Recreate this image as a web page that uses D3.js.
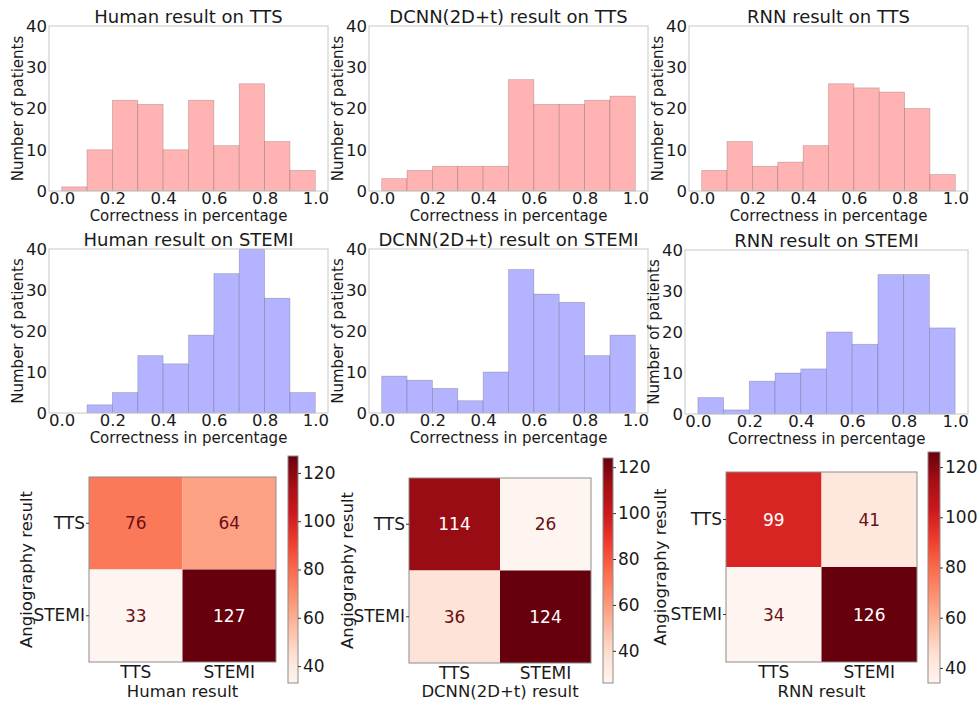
<!DOCTYPE html>
<html>
<head>
	<script src="https://cdn.jsdelivr.net/npm/d3@7"></script>
	<style>
		html, body {
			padding: 0;
			margin: 0;
			background: #fff;
		}
		text {
			font-family: "DejaVu Sans", sans-serif;
			fill: #1a1a1a;
		}
	</style>
</head>
<body>
	<script>
		var width = 977,
			height = 703;

		// ---- data ----
		var binEdges = [0.0, 0.1, 0.2, 0.3, 0.4, 0.5, 0.6, 0.7, 0.8, 0.9, 1.0];
		var humanTTS = [1, 10, 22, 21, 10, 22, 11, 26, 12, 5];
		var dcnnTTS = [3, 5, 6, 6, 6, 27, 21, 21, 22, 23];
		var rnnTTS = [5, 12, 6, 7, 11, 26, 25, 24, 20, 4];
		var humanSTEMI = [0, 2, 5, 14, 12, 19, 34, 40, 28, 5];
		var dcnnSTEMI = [9, 8, 6, 3, 10, 35, 29, 27, 14, 19];
		var rnnSTEMI = [4, 1, 8, 10, 11, 20, 17, 34, 34, 21];
		var histXTicks = [0.0, 0.2, 0.4, 0.6, 0.8, 1.0];
		var histYTicks = [0, 10, 20, 30, 40];

		var classLabels = ["TTS", "STEMI"];
		var humanCM = [[76, 64], [33, 127]];
		var dcnnCM = [[114, 26], [36, 124]];
		var rnnCM = [[99, 41], [34, 126]];
		var colorbarTicks = [40, 60, 80, 100, 120];

		// matplotlib "Reds" anchors
		var redsAnchors = ["#fff5f0", "#fee0d2", "#fcbba1", "#fc9272", "#fb6a4a",
			"#ef3b2c", "#cb181d", "#a50f15", "#67000d"];

		var svg = d3.select("body").append("svg")
			.attr("width", width)
			.attr("height", height);

		function styleTicks(sel, size) {
			sel.selectAll("text")
				.style("font-size", size + "px")
				.style("font-family", "DejaVu Sans, sans-serif")
				.attr("fill", "#1a1a1a");
		}

		//////// HISTOGRAMS ////////
		var hists = [
			{ title: "Human result on TTS", counts: humanTTS, color: "red", box: [49, 328, 26, 191] },
			{ title: "DCNN(2D+t) result on TTS", counts: dcnnTTS, color: "red", box: [369, 648, 26, 191] },
			{ title: "RNN result on TTS", counts: rnnTTS, color: "red", box: [689, 968, 26, 191] },
			{ title: "Human result on STEMI", counts: humanSTEMI, color: "blue", box: [49, 328, 249, 413] },
			{ title: "DCNN(2D+t) result on STEMI", counts: dcnnSTEMI, color: "blue", box: [369, 648, 249, 413] },
			{ title: "RNN result on STEMI", counts: rnnSTEMI, color: "blue", box: [685, 968, 250, 414] }
		];

		var fills = { red: "#ffb3b3", blue: "#b3b3ff" };

		hists.forEach(function(h) {
			var b = h.box;
			var x = d3.scaleLinear().domain([-0.05, 1.05]).range([b[0], b[1]]);
			var y = d3.scaleLinear().domain([0, 40]).range([b[3], b[2]]);
			var g = svg.append("g");

			var bins = h.counts.map(function(c, i) {
				return { x0: binEdges[i], x1: binEdges[i + 1], n: c };
			}).filter(function(d) { return d.n > 0; });

			g.selectAll("rect.bar")
				.data(bins)
				.enter().append("rect")
				.attr("class", "bar")
				.attr("x", function(d) { return x(d.x0); })
				.attr("y", function(d) { return y(d.n); })
				.attr("width", function(d) { return x(d.x1) - x(d.x0); })
				.attr("height", function(d) { return y(0) - y(d.n); })
				.attr("fill", fills[h.color])
				.attr("stroke", "#000")
				.attr("stroke-opacity", 0.2)
				.attr("stroke-width", 0.8);

			// frame
			g.append("rect")
				.attr("x", b[0]).attr("y", b[2])
				.attr("width", b[1] - b[0]).attr("height", b[3] - b[2])
				.attr("fill", "none")
				.attr("stroke", "#c8c8c8")
				.attr("stroke-width", 1);

			var xAxis = d3.axisBottom(x).tickValues(histXTicks)
				.tickFormat(d3.format(".1f")).tickSize(0).tickPadding(1);
			var gx = g.append("g").attr("transform", "translate(0," + b[3] + ")").call(xAxis);
			gx.select(".domain").remove();
			styleTicks(gx, 16.5);

			var yAxis = d3.axisLeft(y).tickValues(histYTicks).tickSize(0).tickPadding(2);
			var gy = g.append("g").attr("transform", "translate(" + b[0] + ",0)").call(yAxis);
			gy.select(".domain").remove();
			styleTicks(gy, 16.5);

			g.append("text")
				.attr("x", (b[0] + b[1]) / 2)
				.attr("y", b[2] - 3)
				.attr("text-anchor", "middle")
				.style("font-size", "18px")
				.text(h.title);

			g.append("text")
				.attr("x", (b[0] + b[1]) / 2)
				.attr("y", b[3] + 30)
				.attr("text-anchor", "middle")
				.style("font-size", "15px")
				.text("Correctness in percentage");

			g.append("text")
				.attr("transform", "translate(" + (b[0] - 31) + "," + ((b[2] + b[3]) / 2) + ") rotate(-90)")
				.attr("text-anchor", "middle")
				.attr("dy", "0.35em")
				.style("font-size", "15px")
				.text("Number of patients");
		});

		//////// CONFUSION MATRICES ////////
		var heats = [
			{ xlabel: "Human result", cm: humanCM, box: [89, 276, 477, 662], cbar: [288, 298, 456, 683], ylabX: 26 },
			{ xlabel: "DCNN(2D+t) result", cm: dcnnCM, box: [409, 591, 478, 663], cbar: [603, 613, 458, 683], ylabX: 347 },
			{ xlabel: "RNN result", cm: rnnCM, box: [726, 917, 472, 662], cbar: [928, 940, 452, 683], ylabX: 660 }
		];

		var defs = svg.append("defs");

		heats.forEach(function(h, hi) {
			var b = h.box, cb = h.cbar;
			var flat = [].concat.apply([], h.cm);
			var vmin = d3.min(flat), vmax = d3.max(flat);

			var color = d3.scaleLinear()
				.domain(redsAnchors.map(function(c, i) { return vmin + (vmax - vmin) * i / (redsAnchors.length - 1); }))
				.range(redsAnchors)
				.interpolate(d3.interpolateRgb);

			var x = d3.scaleBand().domain(classLabels).range([b[0], b[1]]);
			var y = d3.scaleBand().domain(classLabels).range([b[2], b[3]]);
			var g = svg.append("g");

			var cells = [];
			h.cm.forEach(function(row, r) {
				row.forEach(function(v, c) {
					cells.push({ row: classLabels[r], col: classLabels[c], v: v });
				});
			});

			g.selectAll("rect.cell")
				.data(cells)
				.enter().append("rect")
				.attr("class", "cell")
				.attr("x", function(d) { return x(d.col); })
				.attr("y", function(d) { return y(d.row); })
				.attr("width", x.bandwidth())
				.attr("height", y.bandwidth())
				.attr("fill", function(d) { return color(d.v); });

			g.selectAll("text.annot")
				.data(cells)
				.enter().append("text")
				.attr("class", "annot")
				.attr("x", function(d) { return x(d.col) + x.bandwidth() / 2; })
				.attr("y", function(d) { return y(d.row) + y.bandwidth() / 2; })
				.attr("dy", "0.36em")
				.attr("text-anchor", "middle")
				.style("font-size", "17px")
				.style("fill", function(d) { return (d.v - vmin) / (vmax - vmin) > 0.6 ? "#ffffff" : "#6b0f14"; })
				.text(function(d) { return d.v; });

			g.append("rect")
				.attr("x", b[0]).attr("y", b[2])
				.attr("width", b[1] - b[0]).attr("height", b[3] - b[2])
				.attr("fill", "none")
				.attr("stroke", "#8c8c8c")
				.attr("stroke-width", 1);

			var xAxis = d3.axisBottom(x).tickSize(0).tickPadding(4);
			var gx = g.append("g").attr("transform", "translate(0," + b[3] + ")").call(xAxis);
			gx.select(".domain").remove();
			styleTicks(gx, 17);

			var yAxis = d3.axisLeft(y).tickSize(3).tickPadding(1);
			var gy = g.append("g").attr("transform", "translate(" + b[0] + ",0)").call(yAxis);
			gy.select(".domain").remove();
			gy.selectAll("line").attr("stroke", "#333");
			styleTicks(gy, 17);

			g.append("text")
				.attr("x", (b[0] + b[1]) / 2)
				.attr("y", 697)
				.attr("text-anchor", "middle")
				.style("font-size", "16.5px")
				.text(h.xlabel);

			g.append("text")
				.attr("transform", "translate(" + h.ylabX + "," + ((b[2] + b[3]) / 2) + ") rotate(-90)")
				.attr("text-anchor", "middle")
				.attr("dy", "0.35em")
				.style("font-size", "16.5px")
				.text("Angiography result");

			// colorbar
			var gradId = "reds-grad-" + hi;
			var grad = defs.append("linearGradient")
				.attr("id", gradId)
				.attr("x1", "0%").attr("y1", "100%")
				.attr("x2", "0%").attr("y2", "0%");
			redsAnchors.forEach(function(c, i) {
				grad.append("stop")
					.attr("offset", (100 * i / (redsAnchors.length - 1)) + "%")
					.attr("stop-color", c);
			});

			g.append("rect")
				.attr("x", cb[0]).attr("y", cb[2])
				.attr("width", cb[1] - cb[0]).attr("height", cb[3] - cb[2])
				.attr("fill", "url(#" + gradId + ")")
				.attr("stroke", "#8c8c8c")
				.attr("stroke-width", 1);

			var cy = d3.scaleLinear().domain([vmin, vmax]).range([cb[3], cb[2]]);
			var cAxis = d3.axisRight(cy).tickValues(colorbarTicks).tickSize(3).tickPadding(2);
			var gc = g.append("g").attr("transform", "translate(" + cb[1] + ",0)").call(cAxis);
			gc.select(".domain").remove();
			gc.selectAll("line").attr("stroke", "#333");
			styleTicks(gc, 17);
		});
	</script>
</body>
</html>
